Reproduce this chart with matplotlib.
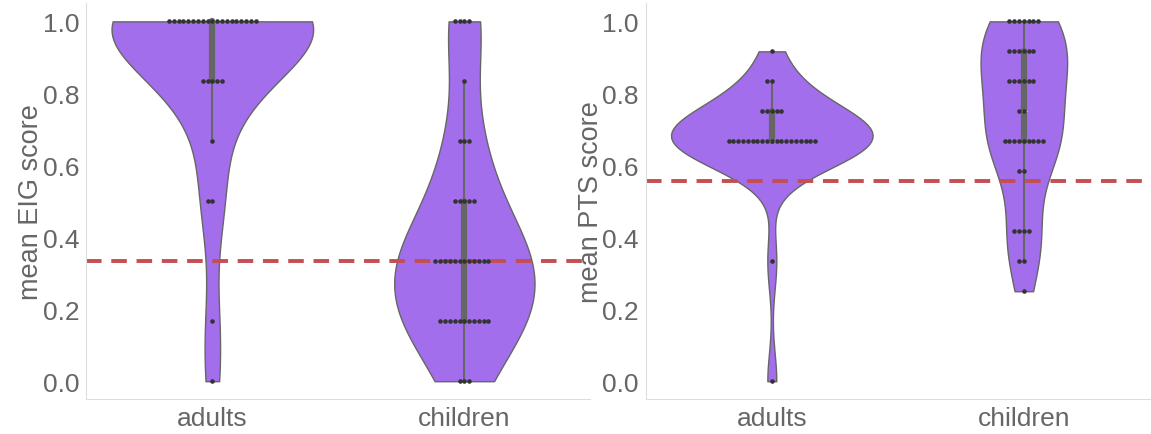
import numpy as np
import pandas as pd
import matplotlib
matplotlib.use("Agg")
import matplotlib.pyplot as plt
import seaborn as sns

# ---------------------------------------------------------------------
# DATA (score levels and how many participants sit at each level)
# ---------------------------------------------------------------------
GROUPS = ["adults", "children"]

EIG_LEVELS_ADULTS = [1.0, 0.8333, 0.6667, 0.5, 0.1667, 0.0]
EIG_COUNTS_ADULTS = [19, 5, 1, 2, 1, 1]
EIG_LEVELS_CHILDREN = [1.0, 0.8333, 0.6667, 0.5, 0.3333, 0.1667, 0.0]
EIG_COUNTS_CHILDREN = [4, 1, 3, 5, 12, 11, 3]

PTS_LEVELS_ADULTS = [0.9167, 0.8333, 0.75, 0.6667, 0.3333, 0.0]
PTS_COUNTS_ADULTS = [1, 2, 5, 19, 1, 1]
PTS_LEVELS_CHILDREN = [1.0, 0.9167, 0.8333, 0.75, 0.6667, 0.5833, 0.4167, 0.3333, 0.25]
PTS_COUNTS_CHILDREN = [7, 6, 6, 2, 9, 2, 4, 2, 1]

EIG_CHANCE = 0.3333
PTS_CHANCE = 0.555

VIOLIN_COLOR = "#A36EEB"
LINE_COLOR = "#C44E52"
TEXT_COLOR = "#666666"


def _long(levels_a, counts_a, levels_c, counts_c):
    vals = list(np.repeat(levels_a, counts_a)) + list(np.repeat(levels_c, counts_c))
    grp = ["adults"] * sum(counts_a) + ["children"] * sum(counts_c)
    return pd.DataFrame({"group": grp, "score": vals})


eig = _long(EIG_LEVELS_ADULTS, EIG_COUNTS_ADULTS, EIG_LEVELS_CHILDREN, EIG_COUNTS_CHILDREN)
pts = _long(PTS_LEVELS_ADULTS, PTS_COUNTS_ADULTS, PTS_LEVELS_CHILDREN, PTS_COUNTS_CHILDREN)

# ---------------------------------------------------------------------
# PLOT
# ---------------------------------------------------------------------
sns.set_style("white")
plt.rcParams["font.family"] = ["Liberation Sans", "DejaVu Sans"]
plt.rcParams["axes.edgecolor"] = "#dddddd"
plt.rcParams["text.color"] = TEXT_COLOR
plt.rcParams["axes.labelcolor"] = TEXT_COLOR
plt.rcParams["xtick.color"] = TEXT_COLOR
plt.rcParams["ytick.color"] = TEXT_COLOR

fig, axes = plt.subplots(1, 2, figsize=(11.51, 4.35), dpi=100)
fig.subplots_adjust(left=0.075, right=0.999, top=0.99, bottom=0.08, wspace=0.11)


def _panel(ax, df, chance, ylabel):
    sns.violinplot(data=df, x="group", y="score", order=GROUPS, ax=ax,
                   color=VIOLIN_COLOR, saturation=1, cut=0, inner="box",
                   linewidth=1, linecolor="#666666")
    sns.swarmplot(data=df, x="group", y="score", order=GROUPS, ax=ax,
                  color="#333333", size=3.3)
    ax.axhline(chance, color=LINE_COLOR, ls="--", lw=2.8, dashes=(4, 2.5))
    ax.set_ylim(-0.05, 1.05)
    ax.set_yticks([0.0, 0.2, 0.4, 0.6, 0.8, 1.0])
    ax.set_yticklabels([f"{t:.1f}" for t in ax.get_yticks()])
    ax.set_xlabel("")
    ax.set_ylabel(ylabel, fontsize=19.5, labelpad=-1)
    ax.tick_params(axis="both", labelsize=19, length=0, pad=5)
    sns.despine(ax=ax)


_panel(axes[0], eig, EIG_CHANCE, "mean EIG score")
_panel(axes[1], pts, PTS_CHANCE, "mean PTS score")

fig.savefig("out.png", dpi=100, facecolor="white")
plt.close(fig)
